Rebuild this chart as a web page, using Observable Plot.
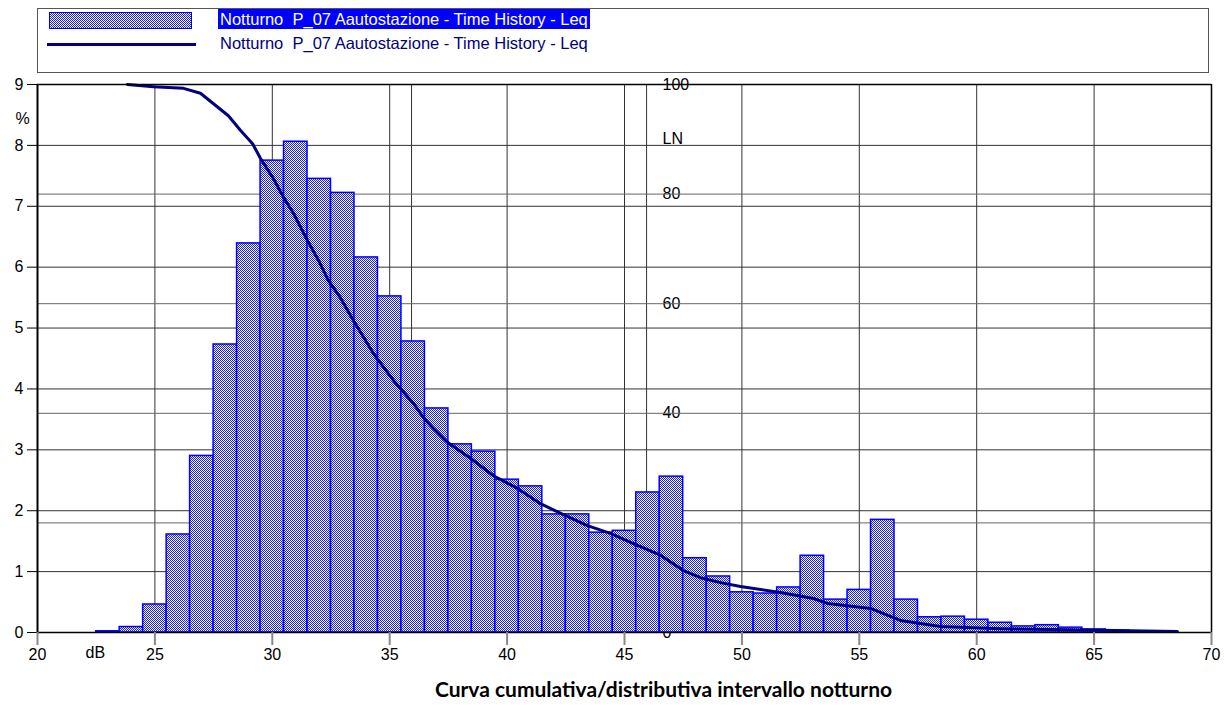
<!DOCTYPE html>
<html><head><meta charset="utf-8">
<script src="https://cdn.jsdelivr.net/npm/d3@7"></script>
<script src="https://cdn.jsdelivr.net/npm/@observablehq/plot@0.6"></script>
<style>
body{margin:0;background:#fff;font-family:"Liberation Sans",Arial,sans-serif;width:1227px;height:705px;overflow:hidden;}
#legend{position:relative;height:74px;}
#box{position:absolute;left:37px;top:8px;width:1170px;height:63px;border:1px solid #555;}
#sw1{position:absolute;left:49px;top:12px;width:141px;height:15px;border:1px solid #0000ff;
 background:repeating-conic-gradient(#1a1aff 0 25%, #ffffff 0 50%) 0 0/2px 2px;}
#t1{position:absolute;left:218px;top:9px;height:20px;line-height:20px;padding:0 2px;background:#0000ff;color:#fff;font-size:16.5px;white-space:pre;}
#sw2{position:absolute;left:47px;top:43px;width:149px;height:3px;background:#000080;}
#t2{position:absolute;left:220px;top:33px;height:20px;line-height:20px;color:#000080;font-size:16.5px;white-space:pre;}
#title{text-align:center;padding-left:100px;font-family:Lato,"Open Sans",sans-serif;font-weight:bold;font-size:21px;line-height:38px;color:#000;}
svg{display:block;}
</style></head>
<body>
<div id="legend"><div id="box"></div><div id="sw1"></div><div id="t1"></div><div id="sw2"></div><div id="t2"></div></div>
<div id="chart"></div>
<div id="title"></div>
<script>
const seriesName = "Notturno  P_07 Aautostazione - Time History - Leq";
const chartTitle = "Curva cumulativa/distributiva intervallo notturno";
const dbBins = [23,24,25,26,27,28,29,30,31,32,33,34,35,36,37,38,39,40,41,42,43,44,45,46,47,48,49,50,51,52,53,54,55,56,57,58,59,60,61,62,63,64,65,66,67,68];
const pctValues = [0.02,0.09,0.46,1.61,2.90,4.73,6.39,7.75,8.06,7.45,7.22,6.16,5.52,4.78,3.68,3.09,2.97,2.51,2.40,1.94,1.94,1.64,1.67,2.30,2.56,1.22,0.92,0.66,0.64,0.74,1.26,0.54,0.70,1.85,0.54,0.25,0.26,0.21,0.16,0.10,0.12,0.08,0.05,0.03,0.02,0.01];
const cumDb = [23.83,24.94,26.22,26.94,28.13,28.65,29.16,29.50,30.05,30.48,30.90,31.50,31.97,32.39,32.90,33.46,34.31,35.16,36.01,36.44,36.87,37.46,38.44,39.42,40.44,41.42,42.40,43.42,44.40,45.38,46.53,47.51,48.24,49.09,49.94,51.64,53.05,53.65,55.48,56.75,58.46,61.01,63.87,68.55];
const cumLn = [100,99.6,99.3,98.4,94.3,91.6,89.2,86.5,82.8,79.4,76.5,71.5,67.9,64.2,61.1,56.9,50.9,46.0,41.8,39.2,37.2,34.7,31.8,28.6,26.3,23.5,21.5,19.5,18.1,16.2,14.1,11.3,10.0,9.1,8.4,7.3,6.2,5.3,4.4,2.2,1.1,0.7,0.5,0.2];
const xTicks = [20,25,30,35,40,45,50,55,60,65,70];
const yTicks = [0,1,2,3,4,5,6,7,8,9];
const lnTicks = [0,20,40,60,80,100];
const lnLabel = "LN";
const lnLabelAt = 90;
const xGridExtra = [35.93,45.94];
const yUnit = "%";
const xUnit = "dB";
const lnMax = 100, pctMax = 9;
const lnToPct = pctMax / lnMax;

document.getElementById("t1").textContent = seriesName;
document.getElementById("t2").textContent = seriesName;
document.getElementById("title").textContent = chartTitle;

const bars = dbBins.map((d, i) => ({db: d, pct: pctValues[i]}));
const curve = cumDb.map((d, i) => ({db: d, ln: cumLn[i]}));

const plot = Plot.plot({
  width: 1227, height: 596,
  marginTop: 10, marginBottom: 38, marginLeft: 37, marginRight: 16,
  x: {domain: [20, 70], axis: null},
  y: {domain: [0, 9], axis: null},
  style: {fontFamily: "Liberation Sans, Arial, sans-serif", fontSize: "16px", color: "#000", background: "#fff", overflow: "visible"},
  marks: [
    Plot.text(lnTicks, {y: d => d * lnToPct, text: d => String(d), frameAnchor: "left", dx: 625, textAnchor: "start", fill: "#000"}),
    Plot.text([lnLabel], {y: () => lnLabelAt * lnToPct, text: d => d, frameAnchor: "left", dx: 625, textAnchor: "start", fill: "#000"}),
    Plot.gridX(xTicks.slice(1, -1), {stroke: "#333", strokeOpacity: 1}),
    Plot.gridX(xGridExtra, {stroke: "#333", strokeOpacity: 1}),
    Plot.gridY(yTicks.slice(1), {stroke: "#333", strokeOpacity: 1}),
    Plot.gridY(lnTicks.slice(1, -1).map(v => v * lnToPct), {stroke: "#666", strokeOpacity: 1}),
    Plot.rectY(bars, {x1: d => d.db - 0.5, x2: d => d.db + 0.5, y: "pct", fill: "url(#hatch)", stroke: "#0000ff", strokeWidth: 1.5}),
    Plot.line(curve, {x: "db", y: d => d.ln * lnToPct, stroke: "#000080", strokeWidth: 3}),
    Plot.ruleY([9], {stroke: "#000", strokeWidth: 1.5}),
    Plot.ruleY([0], {stroke: "#000", strokeWidth: 1.5}),
    Plot.ruleX([70], {stroke: "#000", strokeWidth: 1.5}),
    Plot.ruleX([20], {stroke: "#000", strokeWidth: 2}),
    Plot.axisY({ticks: yTicks, tickSize: 10, tickPadding: 4, label: null, stroke: "#000", fill: "#000"}),
    Plot.axisX({ticks: xTicks, tickSize: 13, tickPadding: 3, label: null, stroke: "#888", strokeWidth: 2, fill: "#000"}),
    Plot.text([yUnit], {frameAnchor: "top-left", dx: -22, dy: 28, text: d => d, fill: "#000"}),
    Plot.text([xUnit], {frameAnchor: "bottom-left", dx: 48, dy: 25, text: d => d, fill: "#000"})
  ]
});
d3.select(plot).insert("defs", ":first-child").html(
  '<pattern id="hatch" width="2" height="2" patternUnits="userSpaceOnUse">' +
  '<rect width="2" height="2" fill="#ffffff"/><rect width="1" height="1" fill="#1a1aff"/>' +
  '<rect x="1" y="1" width="1" height="1" fill="#1a1aff"/></pattern>');
document.getElementById("chart").appendChild(plot);
</script>
</body></html>
